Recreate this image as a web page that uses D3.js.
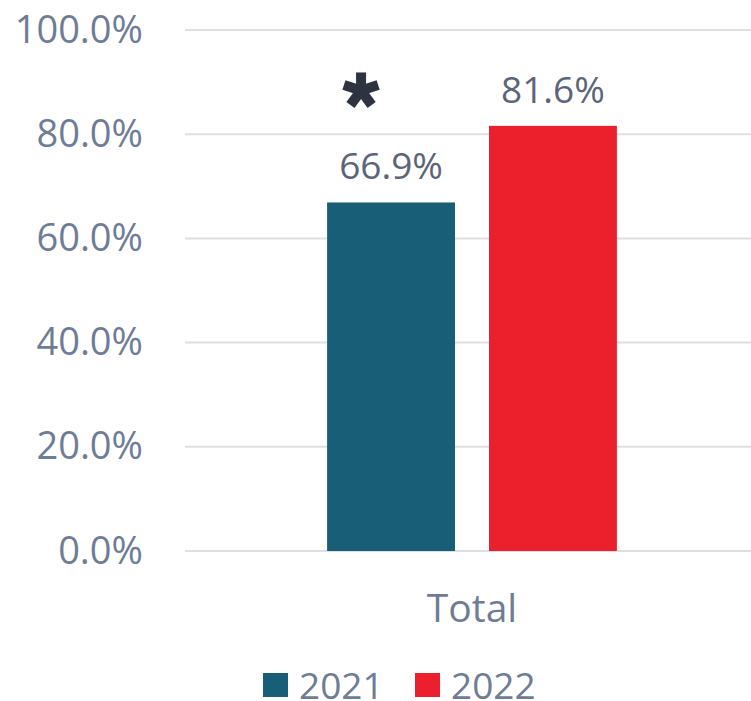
<html lang="en">
<head>
    <title>Total</title>
    <script src="https://d3js.org/d3.v7.min.js"></script>
    <style>
        body { margin: 0; background: #fff; }
        text { font-family: "Open Sans", "Noto Sans", sans-serif; }
    </style>
</head>
<body>
<div id="my_dataviz"></div>
<script>
	// data
	var categories = ["Total"];
	var years = ["2021", "2022"];
	var values2021 = [66.9];
	var values2022 = [81.6];
	var yTicks = [0, 20, 40, 60, 80, 100];
	var starred = ["2021"]; // significant difference marker

	var colors = {"2021": "#175e76", "2022": "#ec1f2d"};

	var width = 751, height = 701;
	var margin = {top: 30, right: 0, bottom: 150, left: 185};

	var svg = d3.select("#my_dataviz")
	  .append("svg")
		.attr("width", width)
		.attr("height", height);

	var data = categories.map(function(c, i) {
		return {cat: c, vals: [
			{year: "2021", value: values2021[i]},
			{year: "2022", value: values2022[i]}
		]};
	});

	// scales
	var x0 = d3.scaleBand()
	  .domain(categories)
	  .range([margin.left, 759])
	  .padding(0.329);
	var x1 = d3.scaleBand()
	  .domain(years)
	  .range([0, x0.bandwidth()])
	  .paddingInner(0.21);
	var y = d3.scaleLinear()
	  .domain([0, 100])
	  .range([551, margin.top]);

	// grid lines
	svg.append("g")
	  .selectAll("line")
	  .data(yTicks)
	  .enter().append("line")
		.attr("x1", margin.left)
		.attr("x2", width)
		.attr("y1", function(d) { return y(d); })
		.attr("y2", function(d) { return y(d); })
		.attr("stroke", "#dcdfe4")
		.attr("stroke-width", 2);

	// Y axis labels
	var yAxis = svg.append("g")
	  .attr("transform", "translate(" + margin.left + ",0)")
	  .call(d3.axisLeft(y).tickValues(yTicks).tickSize(0).tickPadding(42)
		.tickFormat(function(d) { return d.toFixed(1) + "%"; }));
	yAxis.select(".domain").remove();
	yAxis.selectAll("text")
	  .attr("font-family", "Open Sans")
	  .attr("font-size", 38)
	  .attr("fill", "#6e7d96");

	// bars
	var groups = svg.selectAll(".grp")
	  .data(data)
	  .enter().append("g")
		.attr("class", "grp")
		.attr("transform", function(d) { return "translate(" + x0(d.cat) + ",0)"; });

	groups.selectAll("rect")
	  .data(function(d) { return d.vals; })
	  .enter().append("rect")
		.attr("x", function(d) { return x1(d.year); })
		.attr("y", function(d) { return y(d.value); })
		.attr("width", x1.bandwidth())
		.attr("height", function(d) { return y(0) - y(d.value); })
		.attr("fill", function(d) { return colors[d.year]; });

	// value labels
	groups.selectAll(".val")
	  .data(function(d) { return d.vals; })
	  .enter().append("text")
		.attr("class", "val")
		.attr("x", function(d) { return x1(d.year) + x1.bandwidth() / 2; })
		.attr("y", function(d) { return y(d.value) - 23; })
		.attr("text-anchor", "middle")
		.attr("font-size", 37)
		.attr("fill", "#5b6579")
		.text(function(d) { return d.value.toFixed(1) + "%"; });

	// asterisk above starred series
	var star = groups.selectAll(".star")
	  .data(function(d) { return d.vals.filter(function(v) { return starred.indexOf(v.year) >= 0; }); })
	  .enter().append("g")
		.attr("class", "star")
		.attr("transform", function(d) {
			return "translate(" + (x1(d.year) + x1.bandwidth() / 2 - 30) + "," + (y(d.value) - 112) + ")";
		});
	star.selectAll("line")
	  .data([0, 72, 144, 216, 288])
	  .enter().append("line")
		.attr("x1", 0).attr("y1", 0)
		.attr("x2", function(a) { return 18 * Math.sin(a * Math.PI / 180); })
		.attr("y2", function(a) { return -18 * Math.cos(a * Math.PI / 180); })
		.attr("stroke", "#2d3440")
		.attr("stroke-width", 10);

	// X axis
	var xAxis = svg.append("g")
	  .attr("transform", "translate(0,551)")
	  .call(d3.axisBottom(x0).tickSize(0).tickPadding(43));
	xAxis.select(".domain").remove();
	xAxis.selectAll("text")
	  .attr("font-family", "Open Sans")
	  .attr("font-size", 39)
	  .attr("fill", "#6e7d96");

	// legend
	var legendX = [263, 415];
	var legend = svg.selectAll(".legend")
	  .data(years)
	  .enter().append("g")
		.attr("class", "legend")
		.attr("transform", function(d, i) { return "translate(" + legendX[i] + ",673)"; });
	legend.append("rect")
	  .attr("width", 25)
	  .attr("height", 24)
	  .attr("fill", function(d) { return colors[d]; });
	legend.append("text")
	  .attr("x", 36)
	  .attr("y", 26)
	  .attr("font-size", 37)
	  .attr("fill", "#6e7d96")
	  .text(function(d) { return d; });
</script>
</body>
</html>
